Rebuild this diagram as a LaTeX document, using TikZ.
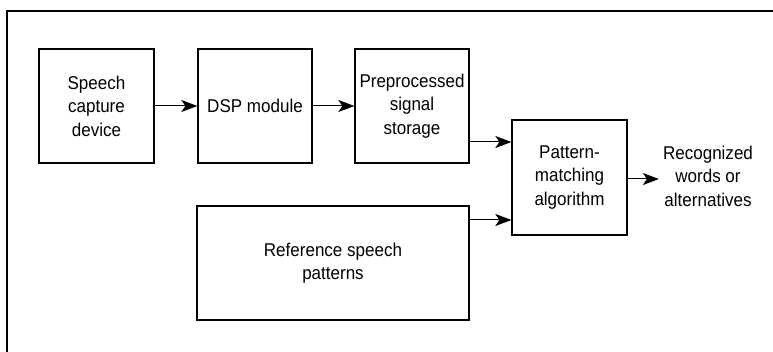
\documentclass[tikz,border=0pt]{standalone}
\usepackage{fontspec}
\setmainfont[FakeStretch=0.92]{Liberation Sans}
\usetikzlibrary{arrows.meta}
\begin{document}
\begin{tikzpicture}[x=1pt,y=-1pt,
  box/.style={draw, line width=1.3pt, align=center, inner sep=1pt,
    font=\fontsize{18.5}{23.5}\selectfont},
  lbl/.style={align=center, inner sep=0pt, inner xsep=4pt,
    font=\fontsize{18.5}{23.5}\selectfont},
  arr/.style={line width=1pt, -{Stealth[length=16pt,width=12pt,inset=4pt]}}]
\useasboundingbox (0,0) rectangle (773,352);
\fill[white] (0,0) rectangle (773,352);
\draw[line width=1.5pt] (7,352) -- (7,11) -- (773,11);
\node[box, minimum width=115pt, minimum height=114pt] (sc) at (96.5,106) {Speech\\capture\\device};
\node[box, minimum width=114pt, minimum height=114pt] (dsp) at (255,106) {DSP module};
\node[box, minimum width=114pt, minimum height=114pt] (pp) at (412,106) {Preprocessed\\signal\\storage};
\node[box, minimum width=115pt, minimum height=115pt] (pm) at (569.5,177.5) {Pattern-\\matching\\algorithm};
\node[box, minimum width=272pt, minimum height=114pt] (ref) at (333,263) {Reference speech\\patterns};
\node[lbl] (out) at (708,176) {Recognized\\words or\\alternatives};
\draw[arr] (sc) -- (dsp);
\draw[arr] (dsp) -- (pp);
\draw[arr] ([yshift=-36pt]pp.east) -- ([yshift=-36pt]pp.east -| pm.west);
\draw[arr] ([yshift=43pt]ref.east) -- ([yshift=43pt]ref.east -| pm.west);
\draw[arr] ([yshift=-1.5pt]pm.east) -- ([yshift=-1.5pt]pm.east -| out.west);
\end{tikzpicture}
\end{document}
